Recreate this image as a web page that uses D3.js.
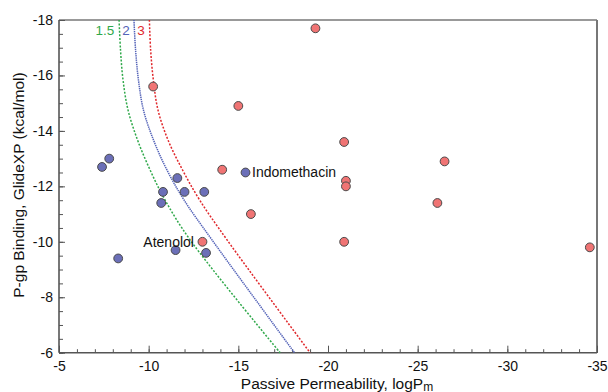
<!DOCTYPE html>
<html><head><meta charset="utf-8">
<script src="https://cdn.jsdelivr.net/npm/d3@7"></script>
<style>body{margin:0;background:#fff;}svg{display:block;font-family:"Liberation Sans",Arial,sans-serif;}</style>
</head><body><svg id="c" width="608" height="392"></svg>
<script>
// ---- data ----
const redX = [-10.25, -19.3, -15.0, -20.9, -14.1, -21.0, -21.0, -26.5, -26.1, -34.6, -15.7, -20.9, -13.0];
const redY = [-15.6, -17.7, -14.9, -13.6, -12.6, -12.2, -12.0, -12.9, -11.4, -9.8, -11.0, -10.0, -10.0];
const blueX = [-7.4, -7.8, -10.8, -11.6, -12.0, -10.7, -8.3, -11.5, -13.1, -15.4, -13.2];
const blueY = [-12.7, -13.0, -11.8, -12.3, -11.8, -11.4, -9.4, -9.7, -11.8, -12.5, -9.6];
const curveY = [-18, -16.92, -15.84, -14.75, -13.67, -12.59, -11.51, -10.07, -6];
const curve15X = [-8.35, -8.43, -8.57, -8.85, -9.38, -10.08, -10.91, -12.31, -17.33];
const curve2X = [-9.18, -9.27, -9.43, -9.71, -10.27, -11.02, -11.97, -13.53, -18.13];
const curve3X = [-10.04, -10.11, -10.26, -10.52, -11.08, -11.89, -12.84, -14.37, -19.0];
const curveLabels = ["1.5", "2", "3"];
const xTicks = [-5, -10, -15, -20, -25, -30, -35];
const yTicks = [-6, -8, -10, -12, -14, -16, -18];
const labels = [{name: "Indomethacin", x: -15.4, y: -12.5, side: "right"},
                {name: "Atenolol", x: -13.0, y: -10.0, side: "left"}];

// ---- chart ----
const svg = d3.select("#c");
const L = 59, R = 597, T = 20, B = 352.7;
const x = d3.scaleLinear().domain([-5, -35]).range([L, R]);
const y = d3.scaleLinear().domain([-6, -18]).range([B, T]);
const axisCol = "#555";

// frame top/right
svg.append("line").attr("x1", L).attr("x2", R).attr("y1", T).attr("y2", T).attr("stroke", "#777").attr("stroke-width", 1.5);
svg.append("line").attr("x1", R).attr("x2", R).attr("y1", T).attr("y2", B).attr("stroke", "#777").attr("stroke-width", 2);

// ticks
const gx = svg.append("g").attr("transform", `translate(0,${B})`);
gx.call(d3.axisBottom(x).tickValues(d3.range(-5, -35.5, -1)).tickSize(-3.5).tickFormat(""))
  .call(g => g.select(".domain").remove())
  .call(g => g.selectAll("line").attr("stroke", axisCol));
const gx2 = svg.append("g").attr("transform", `translate(0,${B})`);
gx2.call(d3.axisBottom(x).tickValues(xTicks).tickSize(-7).tickPadding(8).tickFormat(d => d))
  .call(g => g.select(".domain").attr("stroke", axisCol).attr("stroke-width", 1.6).attr("d", `M${L},0H${R}`))
  .call(g => g.selectAll("line").attr("stroke", axisCol))
  .call(g => g.selectAll("text").attr("font-size", 14).attr("fill", "#111").attr("font-family", "Liberation Sans, Arial, sans-serif"));

const gy = svg.append("g").attr("transform", `translate(${L},0)`);
gy.call(d3.axisLeft(y).tickValues(d3.range(-6, -18.1, -0.5)).tickSize(-4).tickFormat(""))
  .call(g => g.select(".domain").remove())
  .call(g => g.selectAll("line").attr("stroke", axisCol));
const gy2 = svg.append("g").attr("transform", `translate(${L},0)`);
gy2.call(d3.axisLeft(y).tickValues(yTicks).tickSize(-6).tickPadding(6).tickFormat(d => d))
  .call(g => g.select(".domain").attr("stroke", axisCol).attr("stroke-width", 1.6).attr("d", `M0,${T}V${B}`))
  .call(g => g.selectAll("line").attr("stroke", axisCol))
  .call(g => g.selectAll("text").attr("font-size", 14).attr("fill", "#111").attr("font-family", "Liberation Sans, Arial, sans-serif"));

// curves
const line = d3.line().x(d => x(d[0])).y(d => y(d[1])).curve(d3.curveCatmullRom.alpha(0.5));
const curves = [
  {xs: curve15X, color: "#2fa84a", dash: "2,1.6", lx: 105},
  {xs: curve2X, color: "#5463b8", dash: "1.4,0.8", lx: 126},
  {xs: curve3X, color: "#e0282c", dash: "2,1.6", lx: 141}
];
curves.forEach((c, i) => {
  svg.append("path").attr("d", line(c.xs.map((v, j) => [v, curveY[j]])))
    .attr("fill", "none").attr("stroke", c.color).attr("stroke-width", 1.5).attr("stroke-dasharray", c.dash);
  svg.append("text").attr("x", c.lx).attr("y", 35).attr("text-anchor", "middle")
    .attr("font-size", 13.5).attr("fill", c.color).text(curveLabels[i]);
});

// points
function pts(xs, ys, fill) {
  svg.append("g").selectAll("circle").data(xs.map((v, i) => [v, ys[i]])).join("circle")
    .attr("cx", d => x(d[0])).attr("cy", d => y(d[1])).attr("r", 4.4)
    .attr("fill", fill).attr("stroke", "#4a4a4a").attr("stroke-width", 1);
}
pts(redX, redY, "#f07474");
pts(blueX, blueY, "#6b6fb8");

// annotations
labels.forEach(l => {
  svg.append("text").attr("x", x(l.x) + (l.side === "right" ? 6.5 : -8.5)).attr("y", y(l.y) + 5)
    .attr("text-anchor", l.side === "right" ? "start" : "end")
    .attr("font-size", 14).attr("fill", "#111").text(l.name);
});

// axis titles
const xt = svg.append("text").attr("x", 337).attr("y", 389).attr("text-anchor", "middle")
  .attr("font-size", 15.5).attr("fill", "#111");
xt.append("tspan").text("Passive Permeability, logP");
xt.append("tspan").attr("font-size", 12).attr("dy", 1.5).text("m");

svg.append("text").attr("transform", "translate(24,185) rotate(-90)").attr("text-anchor", "middle")
  .attr("font-size", 15.5).attr("fill", "#111").text("P-gp Binding, GlideXP (kcal/mol)");
</script></body></html>
